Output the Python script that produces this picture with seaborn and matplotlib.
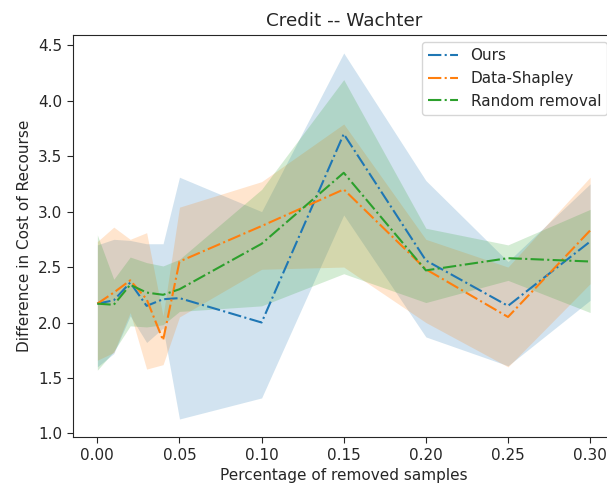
import matplotlib
matplotlib.use("Agg")
import matplotlib.pyplot as plt
import seaborn as sns
import pandas as pd

sns.set_style("ticks")
plt.rcParams["font.family"] = ["DejaVu Sans"]
plt.rcParams["font.size"] = 11
plt.rcParams["xtick.major.size"] = 4
plt.rcParams["ytick.major.size"] = 4

# Fraction of training samples removed
removed = [0.00, 0.01, 0.02, 0.03, 0.04, 0.05, 0.10, 0.15, 0.20, 0.25, 0.30]

# Mean difference in cost of recourse per method
ours_mean = [2.17, 2.20, 2.36, 2.15, 2.21, 2.22, 2.00, 3.70, 2.56, 2.15, 2.73]
shapley_mean = [2.17, 2.27, 2.38, 2.21, 1.84, 2.55, 2.87, 3.20, 2.48, 2.05, 2.83]
random_mean = [2.17, 2.16, 2.34, 2.27, 2.25, 2.30, 2.71, 3.35, 2.47, 2.58, 2.55]

# Spread around each mean (lower / upper)
ours_low = [1.60, 1.72, 2.06, 1.82, 1.95, 1.13, 1.32, 2.97, 1.87, 1.61, 2.20]
ours_high = [2.70, 2.75, 2.74, 2.71, 2.71, 3.31, 3.00, 4.43, 3.28, 2.55, 3.25]
shapley_low = [1.66, 1.73, 2.09, 1.58, 1.62, 2.05, 2.48, 2.50, 2.00, 1.60, 2.35]
shapley_high = [2.73, 2.86, 2.75, 2.81, 2.06, 3.04, 3.27, 3.79, 2.75, 2.50, 3.31]
random_low = [1.57, 1.74, 1.97, 1.96, 1.98, 2.10, 2.15, 2.44, 2.18, 2.38, 2.09]
random_high = [2.79, 2.39, 2.59, 2.54, 2.51, 2.57, 3.20, 4.19, 2.85, 2.70, 3.02]

methods = ["Ours", "Data-Shapley", "Random removal"]
means = [ours_mean, shapley_mean, random_mean]
lows = [ours_low, shapley_low, random_low]
highs = [ours_high, shapley_high, random_high]
colors = sns.color_palette("tab10", 3)

fig = plt.figure(figsize=(6.07, 4.86), dpi=100)
ax = fig.add_axes([0.1198, 0.1002, 0.893, 0.8284])

for name, m, lo, hi, c in zip(methods, means, lows, highs, colors):
    df = pd.DataFrame({"x": removed, "y": m})
    sns.lineplot(data=df, x="x", y="y", ax=ax, color=c, linestyle="-.",
                 linewidth=1.5, label=name)
    ax.fill_between(removed, lo, hi, color=c, alpha=0.2, linewidth=0)

ax.set_title("Credit -- Wachter")
ax.set_xlabel("Percentage of removed samples")
ax.set_ylabel("Difference in Cost of Recourse")
ax.set_xticks([0.00, 0.05, 0.10, 0.15, 0.20, 0.25, 0.30])
ax.set_xticklabels(["0.00", "0.05", "0.10", "0.15", "0.20", "0.25", "0.30"])
ax.set_yticks([1.0, 1.5, 2.0, 2.5, 3.0, 3.5, 4.0, 4.5])
ax.legend(loc="upper right")

fig.savefig("out.png", dpi=100)
